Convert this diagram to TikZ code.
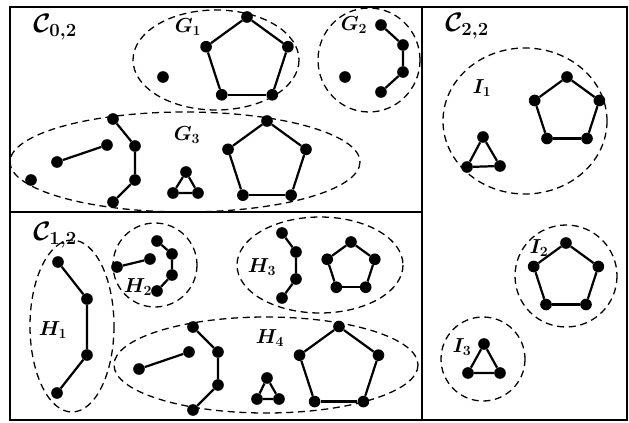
\documentclass[tikz,border=0pt]{standalone}
\begin{document}
\begin{tikzpicture}[x=0.03cm, y=-0.03cm,
    vtx/.style={circle, fill=black, inner sep=0pt, minimum size=0.35cm},
    edge/.style={line width=1.9pt},
    grp/.style={line width=1.1pt, dash pattern=on 6pt off 4pt},
    frm/.style={line width=1.4pt},
    lab/.style={font=\LARGE\boldmath, inner sep=0pt},
    cls/.style={font=\huge\boldmath, inner sep=0pt}]
  \useasboundingbox (0,0) rectangle (629,422);
  % frame
  \draw[frm] (10,7) rectangle (627,420);
  \draw[frm] (10,212) -- (422,212);
  \draw[frm] (422,7) -- (422,420);
  \node[cls] (c02) at (55,27) {\scalebox{1.1}{$\mathcal{C}_{0,2}$}};
  \node[cls] (c12) at (55,235) {\scalebox{1.1}{$\mathcal{C}_{1,2}$}};
  \node[cls] (c22) at (467,26) {\scalebox{1.1}{$\mathcal{C}_{2,2}$}};
  % groups
  \draw[grp] (216,60) ellipse [x radius=83, y radius=50];
  \draw[grp] (369,60) ellipse [x radius=51, y radius=52];
  \draw[grp] (185,162) ellipse [x radius=175, y radius=50];
  \draw[grp] (72,326) ellipse [x radius=42, y radius=86];
  \draw[grp] (155,265) ellipse [x radius=42, y radius=42];
  \draw[grp] (320,265) ellipse [x radius=83, y radius=48];
  \draw[grp] (266,365) ellipse [x radius=152, y radius=48];
  \draw[grp] (525,121) ellipse [x radius=82, y radius=73];
  \draw[grp] (566,276) ellipse [x radius=51, y radius=51];
  \draw[grp] (483,359) ellipse [x radius=42, y radius=42];
  \node[lab] (lg1) at (188,27) {$G_1$};
  \node[lab] (lg2) at (354,25) {$G_2$};
  \node[lab] (lg3) at (187,135) {$G_3$};
  \node[lab] (lh1) at (53,330) {$H_1$};
  \node[lab] (lh2) at (138,287) {$H_2$};
  \node[lab] (lh3) at (262,267) {$H_3$};
  \node[lab] (lh4) at (270,338) {$H_4$};
  \node[lab] (li1) at (482,88) {$I_1$};
  \node[lab] (li2) at (539,248) {$I_2$};
  \node[lab] (li3) at (462,347) {$I_3$};
  % pentagons
  \foreach \nm/\cx/\cy/\r in {g1/247/60/43, g3/267/162/41, h3/351/267/25,
      h4/339/368/41.5, i1/567/111/34, i2/566/277/34} {
    \foreach \k in {0,...,4}
      \node[vtx] (\nm p\k) at ({\cx+\r*cos(90+72*\k)},{\cy-\r*sin(90+72*\k)}) {};
    \foreach \k [remember=\k as \p (initially 4)] in {0,...,4}
      \draw[edge] (\nm p\p) -- (\nm p\k);
  }
  % paths
  \foreach \nm/\ax/\ay/\bx/\by/\ccx/\ccy/\dx/\dy in {g2/381/25/403/45/403/72/381/92,
      g3/113/119/135/146/135/180/113/202, h1/58/262/87/299/87/355/57/393,
      h2/157/241/172/254/172/275/157/291, h3/282/233/296/252/296/279/282/298,
      h4/193/327/218/352/218/385/193/410} {
    \node[vtx] (\nm a1) at (\ax,\ay) {};
    \node[vtx] (\nm a2) at (\bx,\by) {};
    \node[vtx] (\nm a3) at (\ccx,\ccy) {};
    \node[vtx] (\nm a4) at (\dx,\dy) {};
    \draw[edge] (\nm a1) -- (\nm a2) -- (\nm a3) -- (\nm a4);
  }
  % triangles
  \foreach \nm/\ax/\ay/\bx/\by/\ccx/\ccy in {g3/186/172/173/193/198/193,
      i1/483/137/467/167/500/166, h4/267/378/257/399/279/399,
      i3/484/344/468/373/500/373} {
    \node[vtx] (\nm t1) at (\ax,\ay) {};
    \node[vtx] (\nm t2) at (\bx,\by) {};
    \node[vtx] (\nm t3) at (\ccx,\ccy) {};
    \draw[edge] (\nm t1) -- (\nm t2) -- (\nm t3) -- (\nm t1);
  }
  % single edges
  \node[vtx] (g3e1) at (57,162) {};
  \node[vtx] (g3e2) at (107,145) {};
  \draw[edge] (g3e1) -- (g3e2);
  \node[vtx] (h2e1) at (117,267) {};
  \node[vtx] (h2e2) at (150,259) {};
  \draw[edge] (h2e1) -- (h2e2);
  \node[vtx] (h4e1) at (139,369) {};
  \node[vtx] (h4e2) at (189,352) {};
  \draw[edge] (h4e1) -- (h4e2);
  % isolated vertices
  \node[vtx] (g1v) at (163,77) {};
  \node[vtx] (g2v) at (345,77) {};
  \node[vtx] (g3v) at (31,180) {};
\end{tikzpicture}
\end{document}
